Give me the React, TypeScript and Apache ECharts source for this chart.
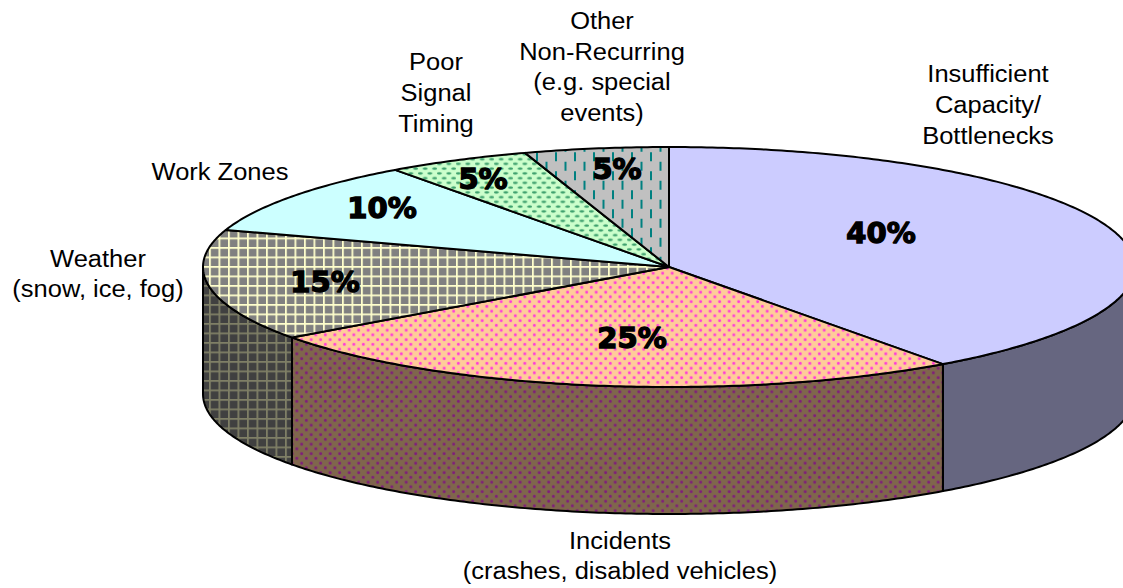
import React, { useEffect, useRef } from "react";
import * as echarts from "echarts";

const categories = [
  "Insufficient\nCapacity/\nBottlenecks",
  "Incidents\n(crashes, disabled vehicles)",
  "Weather\n(snow, ice, fog)",
  "Work Zones",
  "Poor\nSignal\nTiming",
  "Other\nNon-Recurring\n(e.g. special\nevents)",
];
const values = [40, 25, 15, 10, 5, 5];

const CX = 669, CY = 267, RX = 466, RY = 120, DEPTH = 127;
const W = 1123, H = 588;
const labelPos = [
  [988, 105], [620, 556], [98, 274], [220, 172], [436, 93], [602, 67],
];
const pctPos = [
  [881, 233], [632, 338], [325, 282], [382, 208], [483, 179], [617, 169],
];

const T = 9.5;
type Draw = (c: CanvasRenderingContext2D) => void;
function tile(w: number, h: number, bg: string, draw: Draw, x = 0, y = 0) {
  const S = 8;
  const cv = document.createElement("canvas");
  cv.width = Math.round(w * S);
  cv.height = Math.round(h * S);
  const c = cv.getContext("2d")!;
  c.scale(cv.width / w, cv.height / h);
  c.fillStyle = bg;
  c.fillRect(0, 0, w, h);
  draw(c);
  return { image: cv, repeat: "repeat", imageWidth: w, imageHeight: h, x, y };
}
const gridDraw = (col: string): Draw => (c) => {
  c.fillStyle = col;
  c.fillRect(0, 0, T, 1.9);
  c.fillRect(0, 0, 1.9, T);
};
const dotsDraw = (col: string): Draw => (c) => {
  c.fillStyle = col;
  [[T / 4, T / 4], [(3 * T) / 4, (3 * T) / 4]].forEach(([x, y]) => {
    c.beginPath();
    c.arc(x, y, 1.4, 0, Math.PI * 2);
    c.fill();
  });
};
const ovalDraw = (col: string): Draw => (c) => {
  c.fillStyle = col;
  [[T / 4, T / 4], [(3 * T) / 4, (3 * T) / 4]].forEach(([x, y]) => {
    c.beginPath();
    c.ellipse(x, y, 2.4, 1.1, 0, 0, Math.PI * 2);
    c.fill();
  });
};
const dashDraw = (col: string): Draw => (c) => {
  c.fillStyle = col;
  c.fillRect(4, 0.25, 2, 9);
  c.fillRect(13.5, 9.75, 2, 9);
};

function pt(deg: number, dy = 0): number[] {
  const a = (deg * Math.PI) / 180;
  return [CX + RX * Math.sin(a), CY - RY * Math.cos(a) + dy];
}
function arc(a0: number, a1: number, dy = 0): number[][] {
  const out: number[][] = [];
  const n = Math.max(2, Math.ceil((a1 - a0) * 1.5));
  for (let i = 0; i <= n; i++) out.push(pt(a0 + ((a1 - a0) * i) / n, dy));
  return out;
}

export default function App() {
  const ref = useRef<HTMLDivElement>(null);
  useEffect(() => {
    document.body.style.margin = "0";
    const chart = echarts.init(ref.current!, undefined, { renderer: "svg" });
    const total = values.reduce((a, b) => a + b, 0);
    const starts: number[] = [];
    values.reduce((acc, v, i) => {
      starts[i] = (acc / total) * 360;
      return acc + v;
    }, 0);
    const range = (i: number) => [starts[i], starts[i] + (values[i] / total) * 360];

    const topFills = [
      "#ccccff",
      tile(T, T, "#ffcc99", dotsDraw("#ff33dd"), -0.8, 0.4),
      tile(T, T, "#808080", gridDraw("#ffffcc"), 2.3, 2.3),
      "#ccffff",
      tile(T, T, "#ccffcc", ovalDraw("#339966"), -1.6, -1.6),
      tile(19, 19, "#c0c0c0", dashDraw("#008080"), -2.6, 3),
    ];
    const wallFills = [
      "#666680",
      tile(T, T, "#7f664c", dotsDraw("#80197f"), -0.8, 0.4),
      tile(T, T, "#404040", gridDraw("#7f7f66"), 2.3, 2.3),
      "#666680",
      "#666680",
      "#666680",
    ];
    const seriesData = values.map((v, i) => ({ value: v, name: categories[i] }));

    const option: any = {
      animation: false,
      series: [
        {
          type: "custom",
          coordinateSystem: "none",
          silent: true,
          z: 1,
          data: seriesData,
          renderItem: (p: any) => {
            const [a0, a1] = range(p.dataIndex);
            const s = Math.max(a0, 90), e = Math.min(a1, 270);
            if (e <= s) return { type: "group", children: [] };
            return {
              type: "polygon",
              shape: { points: [...arc(s, e), ...arc(s, e, DEPTH).reverse()] },
              style: { fill: wallFills[p.dataIndex], stroke: "#000", lineWidth: 2, lineJoin: "round" },
            };
          },
        },
        {
          type: "custom",
          coordinateSystem: "none",
          silent: true,
          z: 2,
          data: seriesData,
          renderItem: (p: any) => {
            const [a0, a1] = range(p.dataIndex);
            return {
              type: "polygon",
              shape: { points: [[CX, CY], ...arc(a0, a1)] },
              style: { fill: topFills[p.dataIndex], stroke: "#000", lineWidth: 2, lineJoin: "round" },
            };
          },
        },
        {
          type: "custom",
          coordinateSystem: "none",
          silent: true,
          z: 3,
          data: seriesData,
          renderItem: (p: any) => {
            const i = p.dataIndex;
            return {
              type: "group",
              children: [
                {
                  type: "text",
                  x: labelPos[i][0],
                  y: labelPos[i][1],
                  scaleX: 1.085,
                  style: {
                    text: categories[i],
                    x: 0,
                    y: 0,
                    align: "center",
                    verticalAlign: "middle",
                    lineHeight: 30.7,
                    fontFamily: "Liberation Sans",
                    fontSize: 23.5,
                    fill: "#000",
                  },
                },
                {
                  type: "text",
                  style: {
                    text: values[i] + "%",
                    x: pctPos[i][0],
                    y: pctPos[i][1],
                    align: "center",
                    verticalAlign: "middle",
                    fontFamily: "DejaVu Sans",
                    fontWeight: "bold",
                    fontSize: 29,
                    fill: "#000",
                    stroke: "#000",
                    lineWidth: 1.4,
                  },
                },
              ],
            };
          },
        },
      ],
    };
    chart.setOption(option);
    return () => chart.dispose();
  }, []);
  return <div ref={ref} style={{ width: W, height: H, background: "#fff" }} />;
}
